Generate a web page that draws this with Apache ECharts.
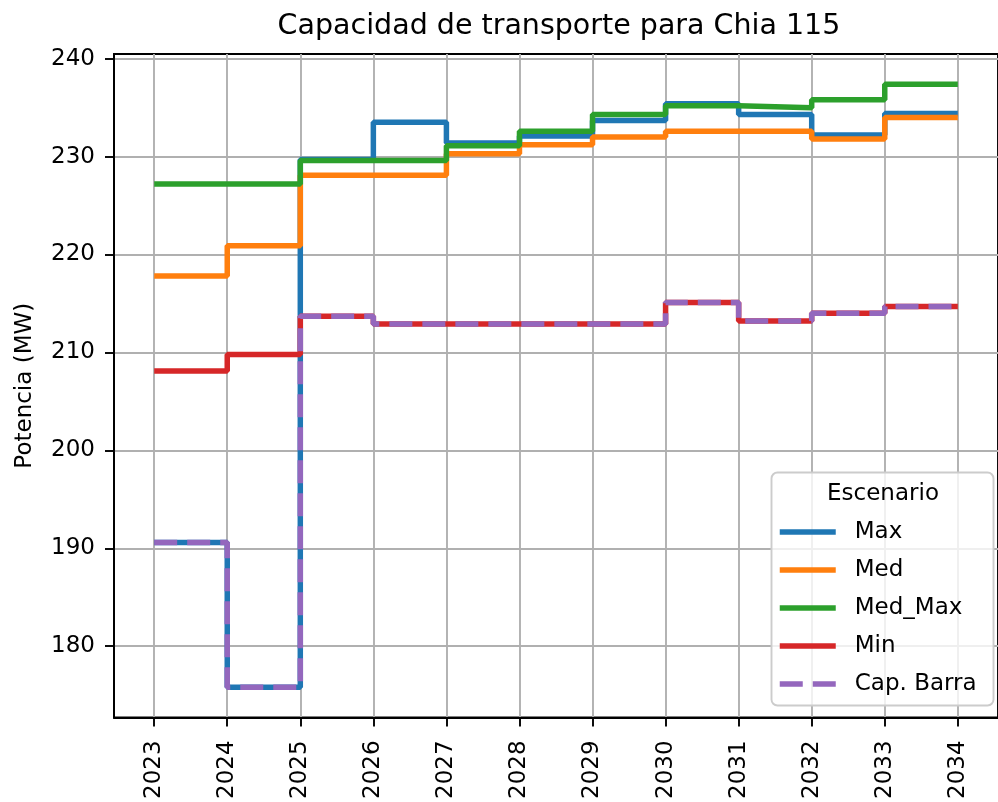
<!DOCTYPE html>
<html>
<head>
<meta charset="utf-8">
<script src="https://cdn.jsdelivr.net/npm/echarts@6/dist/echarts.min.js"></script>
<style>html,body{margin:0;padding:0;background:#fff}#c{width:998px;height:802px}</style>
</head>
<body>
<div id="c"></div>
<script>
const years = [2023, 2024, 2025, 2026, 2027, 2028, 2029, 2030, 2031, 2032, 2033, 2034];
const maxVals = [190.6, 175.8, 229.7, 233.5, 231.4, 232.1, 233.7, 235.4, 234.3, 232.2, 234.4, 234.4];
const medVals = [217.8, 220.9, 228.1, 228.1, 230.3, 231.2, 232.0, 232.6, 232.6, 231.8, 234.0, 234.0];
const medMaxVals = [227.2, 227.2, 229.6, 229.6, 231.1, 232.6, 234.3, 235.2, 235.0, 235.8, 237.4, 237.4];
const minVals = [208.1, 209.8, 213.7, 212.9, 212.9, 212.9, 212.9, 215.1, 213.2, 214.0, 214.7, 214.7];
const capBarraVals = [190.6, 175.8, 213.7, 212.9, 212.9, 212.9, 212.9, 215.1, 213.2, 214.0, 214.7, 214.7];
const yTicks = [180, 190, 200, 210, 220, 230, 240];

const FONT = 'DejaVu Sans';
const LW = 5.5;
const DASH = [23, 10];
const pairs = v => years.map((y, i) => [y, v[i]]);
const mk = (name, vals, color, dashed) => ({
  name, type: 'line', step: 'end', symbol: 'none', showSymbol: false, data: pairs(vals),
  lineStyle: { color, width: LW, type: dashed ? DASH : 'solid' },
  itemStyle: { color }, emphasis: { disabled: true }
});
const legItem = (name, dashed) => ({ name, itemStyle: { opacity: 0 }, lineStyle: { width: LW, type: dashed ? DASH : 'solid' } });

const chart = echarts.init(document.getElementById('c'));
chart.setOption({
  animation: false,
  backgroundColor: '#fff',
  grid: { left: 114, right: -8.5, top: 54, bottom: 84, show: true, borderColor: '#000', borderWidth: 1.9, backgroundColor: 'transparent' },
  xAxis: {
    type: 'value', min: 2022.45, max: 2034.55,
    axisLine: { show: true, lineStyle: { color: '#000', width: 1.9 } },
    axisTick: { show: true, customValues: years, length: 9, lineStyle: { color: '#000', width: 1.9 } },
    axisLabel: { customValues: years, rotate: 90, fontSize: 23, fontFamily: FONT, color: '#000', margin: 23, formatter: v => String(v) },
    splitLine: { show: true, lineStyle: { color: '#b0b0b0', width: 1.9 } }
  },
  yAxis: {
    type: 'value', min: 172.72, max: 240.48,
    name: 'Potencia (MW)', nameLocation: 'middle', nameGap: 77,
    nameTextStyle: { fontSize: 23, fontFamily: FONT, color: '#000' },
    axisLine: { show: true, lineStyle: { color: '#000', width: 1.9 } },
    axisTick: { show: true, customValues: yTicks, length: 9, lineStyle: { color: '#000', width: 1.9 } },
    axisLabel: { customValues: yTicks, fontSize: 23, fontFamily: FONT, color: '#000', margin: 19 },
    splitLine: { show: true, lineStyle: { color: '#b0b0b0', width: 1.9 } }
  },
  legend: {
    orient: 'vertical', left: 777, top: 518, padding: 0,
    itemWidth: 56, itemHeight: 14, itemGap: 10, z: 20,
    textStyle: { fontSize: 23, fontFamily: FONT, color: '#000', lineHeight: 28, padding: [0, 0, 0, 14] },
    data: [legItem('Max'), legItem('Med'), legItem('Med_Max'), legItem('Min'), legItem('Cap. Barra', true)]
  },
  graphic: [
    { type: 'text', x: 559, y: 27, z: 20, style: { text: 'Capacidad de transporte para Chia 115', font: '28.5px "DejaVu Sans"', fill: '#000', align: 'center', verticalAlign: 'middle' } },
    { type: 'rect', z: 15, shape: { x: 771.5, y: 472.5, width: 222, height: 233, r: 6 }, style: { fill: 'rgba(255,255,255,0.8)', stroke: '#cccccc', lineWidth: 1.9 } },
    { type: 'text', x: 883, y: 494, z: 20, style: { text: 'Escenario', font: '23px "DejaVu Sans"', fill: '#000', align: 'center', verticalAlign: 'middle' } }
  ],
  series: [
    mk('Max', maxVals, '#1f77b4'),
    mk('Med', medVals, '#ff7f0e'),
    mk('Med_Max', medMaxVals, '#2ca02c'),
    mk('Min', minVals, '#d62728'),
    mk('Cap. Barra', capBarraVals, '#9467bd', true)
  ]
});
</script>
</body>
</html>
